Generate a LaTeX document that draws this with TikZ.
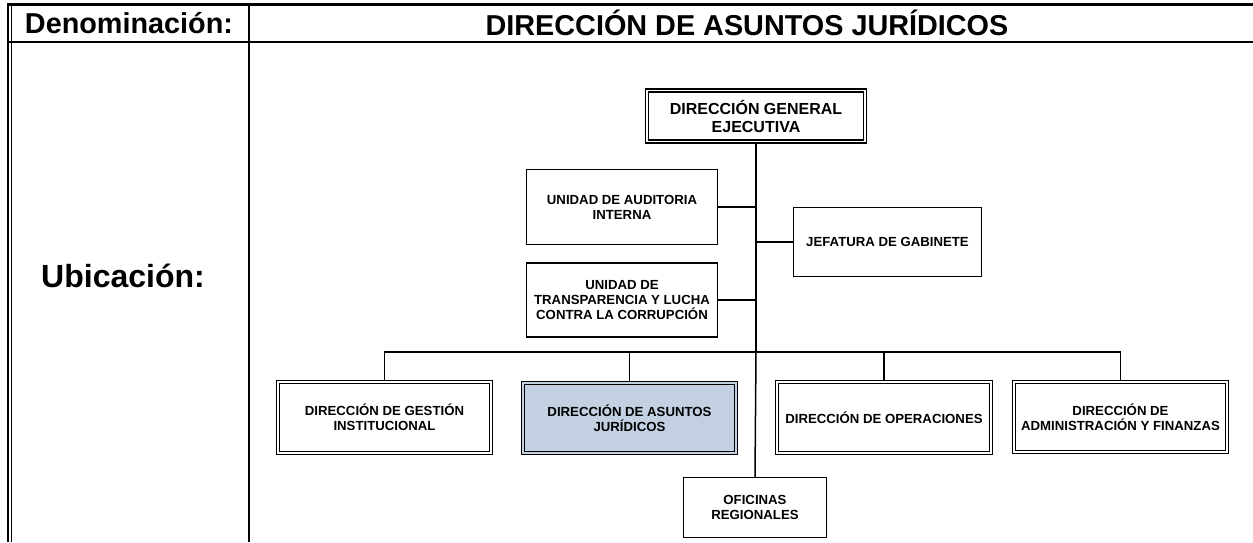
\documentclass[tikz,border=0pt]{standalone}
\usepackage{fontspec}
\setmainfont{Liberation Sans}
\definecolor{dajblue}{RGB}{195,208,226}
\begin{document}
\begin{tikzpicture}[x=1pt,y=-1pt,
  every node/.style={font=\bfseries\fontsize{13.2}{15}\selectfont, align=center, inner sep=0pt},
  dbox/.style={draw, line width=1.4pt, double=white, double distance=1.8pt, fill=white},
  sbox/.style={draw, line width=1.3pt, fill=white},
  conn/.style={line width=1.5pt},
  trunk/.style={line width=2.8pt},
  rule/.style={line width=2pt},
  hdr/.style={font=\bfseries\fontsize{28.8}{32}\selectfont}]
\useasboundingbox (0,0) rectangle (1253,542);
% table frame
\draw[line width=3pt] (7,4) -- (1253,4);
\draw[rule] (7,42) -- (1253,42);
\draw[line width=1.5pt] (8,4) -- (8,542);
\draw[line width=1.5pt] (11.5,4) -- (11.5,542);
\draw[rule] (249,4) -- (249,542);
\node[hdr] (den) at (129,23) {Denominaci\'on:};
\node[hdr] (tit) at (747,23) {DIRECCI\'ON DE ASUNTOS JUR\'IDICOS};
\node[hdr, font=\bfseries\fontsize{32}{36}\selectfont] (ubi) at (123,276) {Ubicaci\'on:};
% boxes
\node[dbox, minimum width=218pt, minimum height=51pt, font=\bfseries\fontsize{16}{18}\selectfont] (DGE) at (756,116) {DIRECCI\'ON GENERAL\\EJECUTIVA};
\node[sbox, minimum width=191pt, minimum height=75pt] (UAI) at (622,207) {UNIDAD DE AUDITORIA\\INTERNA};
\node[sbox, minimum width=191pt, minimum height=74pt] (UT) at (622,300) {UNIDAD DE\\TRANSPARENCIA Y LUCHA\\CONTRA LA CORRUPCI\'ON};
\node[sbox, minimum width=188pt, minimum height=69pt] (JG) at (887.5,242) {JEFATURA DE GABINETE};
\node[dbox, minimum width=213pt, minimum height=71pt] (DGI) at (384.5,417.5) {DIRECCI\'ON DE GESTI\'ON\\INSTITUCIONAL};
\node[dbox, minimum width=213pt, minimum height=70pt, double=dajblue, fill=dajblue] (DAJ) at (629.5,418) {DIRECCI\'ON DE ASUNTOS\\JUR\'IDICOS};
\node[dbox, minimum width=214pt, minimum height=71pt] (DO) at (884,417.5) {DIRECCI\'ON DE OPERACIONES};
\node[dbox, minimum width=213pt, minimum height=70pt] (DAF) at (1120.5,417) {DIRECCI\'ON DE\\ADMINISTRACI\'ON Y FINANZAS};
\node[sbox, minimum width=143pt, minimum height=60pt] (OR) at (755,507.5) {OFICINAS\\REGIONALES};
% connectors
\coordinate (busy) at (0,352);
\draw[conn] (UAI.east) -- (UAI.east -| DGE.south);
\draw[conn] (UT.east) -- (UT.east -| DGE.south);
\draw[conn] (JG.west) -- (JG.west -| DGE.south);
\draw[conn] (DGI.north) |- (DAF.north |- busy) -- (DAF.north);
\draw[conn] (DAJ.north) -- (DAJ.north |- busy);
\draw[conn] (DO.north) -- (DO.north |- busy);
\draw[trunk] (DGE.south) -- (DGE.south |- busy);
\draw[conn] (DGE.south |- busy) -- (OR.north);
\end{tikzpicture}
\end{document}
